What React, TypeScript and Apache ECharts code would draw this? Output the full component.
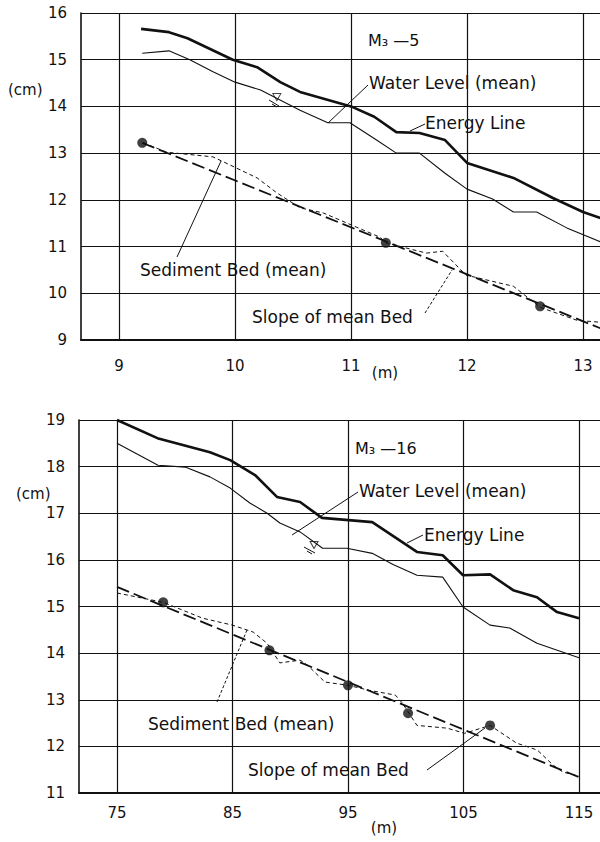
import React, { useEffect, useRef } from "react";
import * as echarts from "echarts";

// ---------- Chart A : M3-5 ----------
const ticksAx = [9, 10, 11, 12, 13];
const energyAx = [9.19, 9.43, 9.59, 9.98, 10.19, 10.39, 10.56, 11.0, 11.2, 11.39, 11.59, 11.81, 12.0, 12.4, 12.74, 13.0, 13.15];
const energyAy = [15.66, 15.59, 15.46, 15.0, 14.84, 14.52, 14.31, 14.0, 13.78, 13.45, 13.43, 13.28, 12.79, 12.47, 12.04, 11.74, 11.61];
const waterAx = [9.2, 9.43, 9.61, 9.81, 10.0, 10.22, 10.56, 10.8, 10.99, 11.22, 11.39, 11.59, 11.81, 12.0, 12.22, 12.4, 12.6, 12.86, 13.15];
const waterAy = [15.14, 15.19, 15.0, 14.74, 14.52, 14.35, 13.92, 13.65, 13.65, 13.28, 13.0, 13.0, 12.57, 12.23, 12.02, 11.74, 11.74, 11.4, 11.1];
const bedAx = [9.21, 9.41, 9.81, 10.19, 10.36, 10.56, 10.76, 11.25, 11.3, 11.65, 11.79, 11.99, 12.4, 12.63, 12.95, 13.15];
const bedAy = [13.22, 13.02, 12.92, 12.47, 12.15, 11.83, 11.72, 11.2, 11.08, 10.86, 10.9, 10.39, 10.15, 9.7, 9.42, 9.38];
const slopeAx = [9.2, 13.15];
const slopeAy = [13.22, 9.25];
const dotsAx = [9.2, 11.3, 12.63];
const dotsAy = [13.22, 11.08, 9.72];
const markAx = [10.36];
const markAy = [14.2];

// ---------- Chart B : M3-16 ----------
const ticksBx = [75, 85, 95, 105, 115];
const energyBx = [75, 78.5, 83.05, 84.8, 86.95, 88.85, 90.85, 92.75, 97.1, 100.97, 103.2, 104.96, 107.3, 109.3, 111.36, 113.1, 115];
const energyBy = [19.0, 18.61, 18.31, 18.14, 17.82, 17.35, 17.24, 16.9, 16.81, 16.17, 16.1, 15.67, 15.69, 15.35, 15.2, 14.88, 14.75];
const waterBx = [75, 78.55, 80.9, 83.05, 84.8, 86.5, 88.0, 89.1, 90.85, 92.8, 94.9, 97.1, 98.9, 100.97, 103.2, 104.96, 107.3, 109.0, 111.36, 115];
const waterBy = [18.5, 18.03, 17.99, 17.78, 17.54, 17.22, 17.0, 16.79, 16.6, 16.25, 16.25, 16.14, 15.9, 15.67, 15.63, 14.99, 14.6, 14.54, 14.21, 13.9];
const bedBx = [75, 79, 82.4, 85.0, 86.8, 88.0, 89.1, 90.85, 91.5, 93.0, 95.0, 96.9, 99.1, 99.7, 100.97, 103.6, 105.1, 107.3, 109.6, 111.4, 112.75, 113.6, 115];
const bedBy = [15.29, 15.09, 14.75, 14.6, 14.45, 14.21, 13.79, 13.85, 13.74, 13.38, 13.31, 13.2, 13.1, 12.93, 12.45, 12.39, 12.28, 12.45, 12.07, 11.92, 11.6, 11.45, 11.36];
const slopeBx = [75, 115];
const slopeBy = [15.42, 11.34];
const dotsBx = [79, 88.2, 95, 100.2, 107.3];
const dotsBy = [15.09, 14.06, 13.31, 12.71, 12.45];
const markBx = [92.06];
const markBy = [16.32];

const zip = (xs: number[], ys: number[]) => xs.map((x, i) => [x, ys[i]]);

const INK = "#111";
const FONT = "DejaVu Sans";

function axisPair(grid: number, xmin: number, xmax: number, xt: number[], ymin: number, ymax: number, xLabelMargin: number) {
  return {
    x: {
      type: "value",
      gridIndex: grid,
      min: xmin,
      max: xmax,
      axisLine: { show: true, onZero: false, lineStyle: { color: INK, width: 2 } },
      axisTick: { show: false, customValues: xt },
      axisLabel: { customValues: xt, margin: xLabelMargin, fontSize: 15, color: INK, fontFamily: FONT },
      splitLine: { show: false },
    },
    y: {
      type: "value",
      gridIndex: grid,
      min: ymin,
      max: ymax,
      interval: 1,
      axisLine: { show: true, lineStyle: { color: INK, width: 1.6 } },
      axisTick: { show: false },
      axisLabel: { margin: 14, fontSize: 15, color: INK, fontFamily: FONT },
      splitLine: { show: true, lineStyle: { color: INK, width: 1.2 } },
    },
  };
}

function seriesFor(idx: number, ticks: number[], e: number[][], w: number[][], b: number[][], s: number[][], d: number[][], m: number[][]) {
  const base = { xAxisIndex: idx, yAxisIndex: idx, silent: true };
  return [
    {
      ...base,
      type: "line",
      name: "Energy Line",
      data: e,
      showSymbol: false,
      lineStyle: { color: INK, width: 2.6 },
      markLine: {
        silent: true,
        symbol: "none",
        label: { show: false },
        lineStyle: { color: INK, width: 1.2, type: "solid" },
        data: ticks.map((v) => ({ xAxis: v })),
      },
    },
    { ...base, type: "line", name: "Water Level (mean)", data: w, showSymbol: false, lineStyle: { color: INK, width: 1.1 } },
    { ...base, type: "line", name: "Sediment Bed (mean)", data: b, showSymbol: false, lineStyle: { color: INK, width: 1, type: [4, 3] } },
    { ...base, type: "line", name: "Slope of mean Bed", data: s, showSymbol: false, lineStyle: { color: INK, width: 1.8, type: [13, 5] } },
    { ...base, type: "scatter", data: d, symbol: "circle", symbolSize: 10, itemStyle: { color: INK } },
    { ...base, type: "scatter", data: m, symbol: "triangle", symbolRotate: 180, symbolSize: [8, 7], itemStyle: { color: "#fff", borderColor: INK, borderWidth: 1 } },
  ];
}

const txt = (text: string, x: number, y: number, size = 16, align = "left") => ({
  type: "text",
  x,
  y,
  silent: true,
  style: { text, fill: INK, fontSize: size, fontFamily: FONT, align, verticalAlign: "middle" },
});
const ln = (x1: number, y1: number, x2: number, y2: number, dash?: number[]) => ({
  type: "line",
  silent: true,
  shape: { x1, y1, x2, y2 },
  style: { stroke: INK, lineWidth: 1, lineDash: dash },
});

export default function App() {
  const ref = useRef<HTMLDivElement>(null);
  useEffect(() => {
    document.body.style.margin = "0";
    const chart = echarts.init(ref.current!, null, { renderer: "svg" });
    // grids extend past the right edge of the page, so the plot is cut off as in the original
    const a = axisPair(0, 8.672, 8.672 + 540 / 116, ticksAx, 9, 16, 18);
    const b = axisPair(1, 71.71, 71.71 + 540 / 11.55, ticksBx, 11, 19, 12);
    chart.setOption({
      animation: false,
      backgroundColor: "#fff",
      grid: [
        { left: 81, top: 13, width: 540, height: 327, outerBoundsMode: "none", containLabel: false },
        { left: 79, top: 420, width: 540, height: 373, outerBoundsMode: "none", containLabel: false },
      ],
      xAxis: [a.x, b.x],
      yAxis: [a.y, b.y],
      series: [
        ...seriesFor(0, ticksAx, zip(energyAx, energyAy), zip(waterAx, waterAy), zip(bedAx, bedAy), zip(slopeAx, slopeAy), zip(dotsAx, dotsAy), zip(markAx, markAy)),
        ...seriesFor(1, ticksBx, zip(energyBx, energyBy), zip(waterBx, waterBy), zip(bedBx, bedBy), zip(slopeBx, slopeBy), zip(dotsBx, dotsBy), zip(markBx, markBy)),
      ],
      graphic: [
        // chart A
        txt("(cm)", 8, 90, 15),
        txt("(m)", 385, 373, 15, "center"),
        txt("M₃ —5", 368, 40, 16),
        txt("Water Level (mean)", 369, 83, 17),
        ln(328, 123, 368, 85),
        txt("Energy Line", 425, 123, 17),
        ln(410, 131, 425, 124),
        txt("Sediment Bed (mean)", 140, 270, 17),
        ln(177, 257, 221, 161),
        txt("Slope of mean Bed", 252, 317, 17),
        ln(425, 313, 452, 270, [3, 2]),
        ln(269, 100, 279, 106),
        ln(272, 104, 277, 107),
        // chart B
        txt("(cm)", 16, 494, 15),
        txt("(m)", 384, 828, 15, "center"),
        txt("M₃ —16", 355, 448, 16),
        txt("Water Level (mean)", 359, 491, 17),
        ln(358, 492, 292, 535),
        txt("Energy Line", 424, 535, 17),
        ln(407, 543, 423, 535),
        txt("Sediment Bed (mean)", 148, 724, 17),
        ln(217, 702, 247, 630, [3, 2]),
        txt("Slope of mean Bed", 248, 770, 17),
        ln(427, 770, 485, 728),
        ln(304, 547, 315, 553),
        ln(307, 551, 312, 554),
      ],
    });
    return () => chart.dispose();
  }, []);
  return <div ref={ref} style={{ width: 600, height: 842 }} />;
}
